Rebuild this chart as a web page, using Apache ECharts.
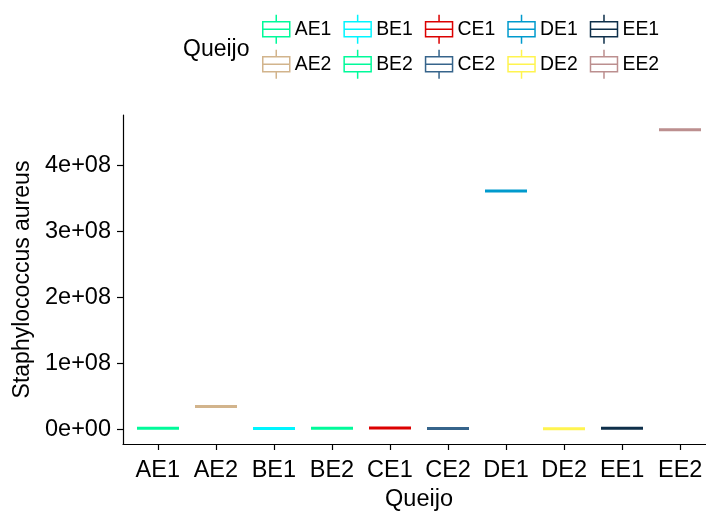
<!DOCTYPE html>
<html><head><meta charset="utf-8">
<script src="https://cdn.jsdelivr.net/npm/echarts@6/dist/echarts.min.js"></script>
<style>html,body{margin:0;padding:0;background:#fff}#c{width:706px;height:511px}</style>
</head><body><div id="c"></div>
<script>
const categories = ['AE1','AE2','BE1','BE2','CE1','CE2','DE1','DE2','EE1','EE2'];
const values = [1.2e6, 3.4e7, 8.0e5, 1.0e6, 1.5e6, 9.0e5, 3.61e8, 6.0e5, 1.1e6, 4.54e8];
const colors = ['#00FA9A','#D2B48C','#00F5FF','#00FA9A','#DC0000','#36648B','#009ACD','#FFF44F','#0E2F4A','#BC8F8F'];
const yTickValues = [0, 1e8, 2e8, 3e8, 4e8];
const yTickLabels = ['0e+00','1e+08','2e+08','3e+08','4e+08'];
const legendRow1 = ['AE1','BE1','CE1','DE1','EE1'];
const legendRow2 = ['AE2','BE2','CE2','DE2','EE2'];
const yMin = -2.27e7, yMax = 4.762e8;

const FONT = 'Liberation Sans, Arial, sans-serif';
const chart = echarts.init(document.getElementById('c'), null, {renderer: 'canvas'});

// discrete positions 1..n, expanded by 0.6 on each side (as the source plot does)
const xPositions = categories.map((c, i) => i + 1);

const xAxes = [{
  type: 'value', gridIndex: 0, min: 0.4, max: categories.length + 0.6,
  axisLine: {show: true, onZero: false, lineStyle: {color: '#000', width: 1.2}},
  axisTick: {show: true, length: 6, customValues: xPositions, lineStyle: {color: '#000', width: 1.2}},
  axisLabel: {show: true, customValues: xPositions, color: '#000', fontSize: 23.5, fontFamily: FONT, margin: 15,
    formatter: v => categories[Math.round(v) - 1] || ''},
  splitLine: {show: false},
  name: 'Queijo', nameLocation: 'middle', nameGap: 44,
  nameTextStyle: {color: '#000', fontSize: 23.5, fontFamily: FONT}
}];
categories.forEach((c, i) => {
  xAxes.push({
    type: 'category', gridIndex: 1, data: categories, boundaryGap: true,
    position: 'bottom', show: false,
    axisLine: {show: false, onZero: false}, splitLine: {show: false}
  });
});

const iconPath = 'path://M0,7L27,7L27,22L0,22Z M0,14.5L27,14.5 M13.5,0L13.5,7 M13.5,22L13.5,29';
function makeLegend(names, top) {
  return {
    data: names.map(n => ({name: n, icon: iconPath})),
    orient: 'horizontal', left: 262, top: top, padding: 0,
    itemWidth: 27, itemHeight: 29, itemGap: 12, selectedMode: false,
    itemStyle: {color: '#fff', borderWidth: 1.5},
    textStyle: {color: '#000', fontSize: 19.4, fontFamily: FONT, padding: [7, 0, 0, 0]}
  };
}

const series = categories.map((c, i) => ({
  type: 'boxplot', name: c, xAxisIndex: i + 1, yAxisIndex: 1,
  boxWidth: [42, 42],
  encode: {x: 0, y: [1, 2, 3, 4, 5]},
  itemStyle: {color: '#fff', borderColor: colors[i], borderWidth: 3},
  emphasis: {disabled: true},
  silent: true,
  data: [[i, values[i], values[i], values[i], values[i], values[i]]]
}));

chart.setOption({
  animation: false,
  backgroundColor: '#fff',
  textStyle: {fontFamily: FONT},
  title: {text: 'Queijo', left: 183, top: 38, padding: 0,
    textStyle: {color: '#000', fontSize: 23, lineHeight: 23, fontWeight: 'normal', fontFamily: FONT}},
  legend: [makeLegend(legendRow1, 14), makeLegend(legendRow2, 49)],
  grid: [
    {left: 123, top: 115, width: 592, height: 329, containLabel: false, outerBoundsMode: 'none'},
    {left: 129, top: 115, width: 580, height: 329, containLabel: false, outerBoundsMode: 'none'}
  ],
  xAxis: xAxes,
  yAxis: [
    {
      type: 'value', gridIndex: 0, min: yMin, max: yMax,
      axisLine: {show: true, lineStyle: {color: '#000', width: 1.2}},
      axisTick: {show: true, length: 6, customValues: yTickValues, lineStyle: {color: '#000', width: 1.2}},
      axisLabel: {show: true, customValues: yTickValues, color: '#000', fontSize: 23.5, fontFamily: FONT, margin: 12,
        formatter: v => { const k = yTickValues.indexOf(v); return k >= 0 ? yTickLabels[k] : ''; }},
      splitLine: {show: false},
      name: 'Staphylococcus aureus', nameLocation: 'middle', nameGap: 89,
      nameTextStyle: {color: '#000', fontSize: 23, fontFamily: FONT}
    },
    {type: 'value', gridIndex: 1, min: yMin, max: yMax, show: false,
      axisLine: {onZero: false}, splitLine: {show: false}}
  ],
  series: series
});
</script></body></html>
